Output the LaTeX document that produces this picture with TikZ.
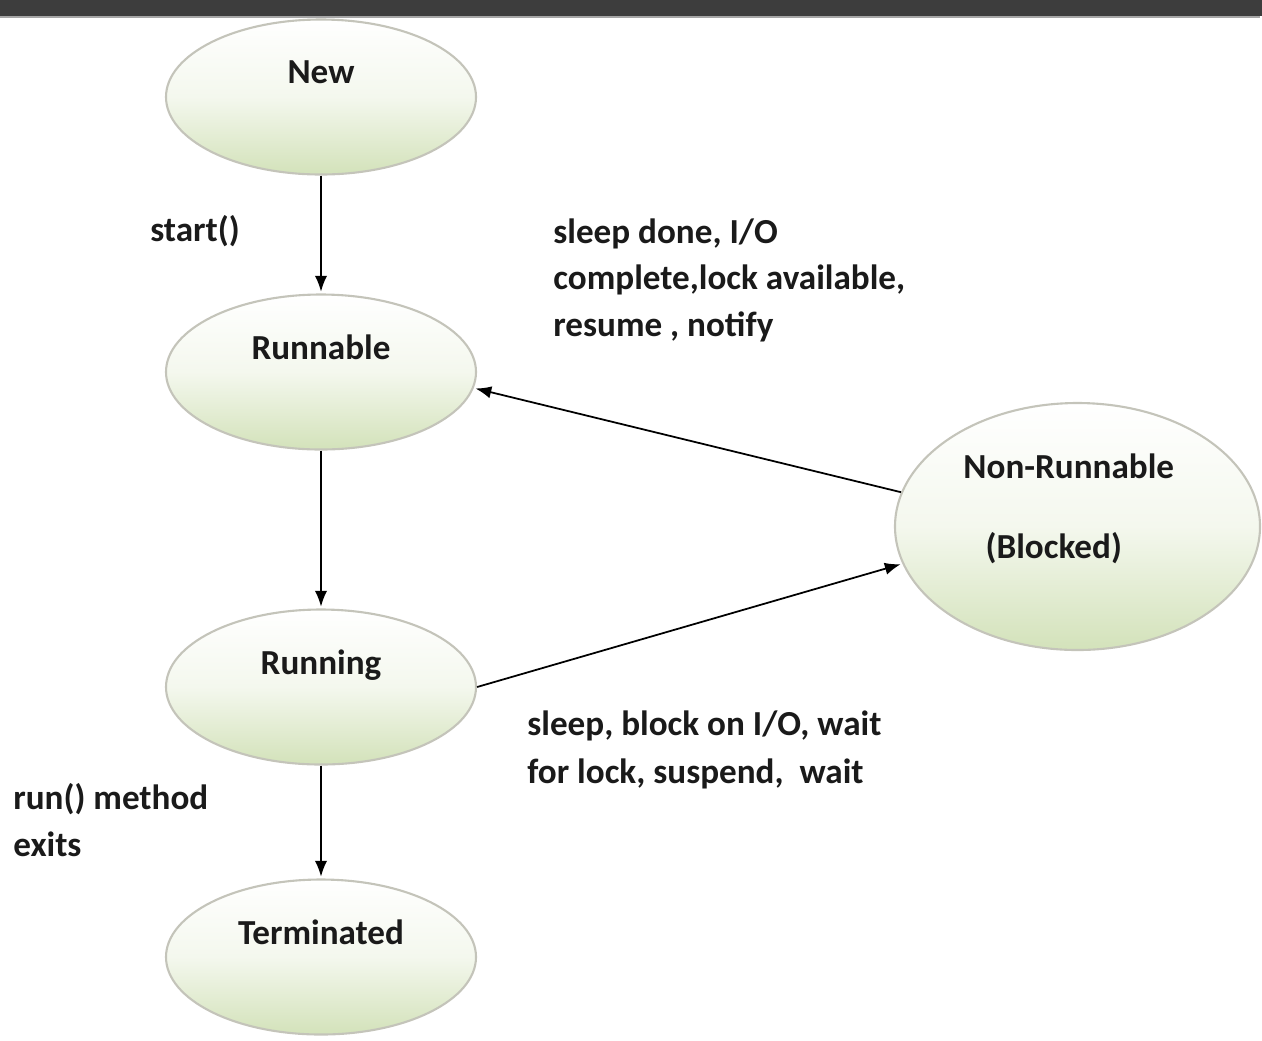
\documentclass[tikz,border=0pt]{standalone}
\usepackage{fontspec}
\setmainfont{Carlito}
\usetikzlibrary{arrows,arrows.meta,positioning,shapes}
\definecolor{ovtop}{HTML}{FFFFFF}
\definecolor{ovbot}{HTML}{D3E2BA}
\definecolor{ovline}{HTML}{C4C4BA}
\definecolor{barcol}{HTML}{3D3D3D}
\definecolor{txtcol}{HTML}{1A1A1A}

\begin{document}
\begin{tikzpicture}[>={Latex[length=9pt,width=7pt]},shorten >=1pt,node distance=3cm,on grid,
    thread/.style={ellipse,draw=ovline,line width=1.2pt,top color=ovtop,bottom color=ovbot,
      middle color=ovtop!75!ovbot,
      minimum width=6.2cm,minimum height=3.1cm,inner sep=0pt,text depth=1cm,
      font=\fontsize{20}{26}\selectfont\bfseries,text=txtcol},
    note/.style={anchor=west,align=left,inner sep=0pt,font=\fontsize{20}{26.5}\selectfont\bfseries,text=txtcol}]
   \useasboundingbox (0,0) rectangle (25.24,-20.8);
   \fill[barcol] (0,0) rectangle (25.24,-0.32);
   \draw[gray!70,line width=0.8pt] (0,-0.34) -- (25.24,-0.34);

   \node[thread] (s_new) at (6.42,-1.94) {New};
   \node[thread] (s_runnable) [below=5.5cm of s_new] {Runnable};
   \node[thread] (s_running) [below=6.3cm of s_runnable] {Running};
   \node[thread] (s_term) [below=5.4cm of s_running] {Terminated};
   \node[thread,minimum width=7.3cm,minimum height=4.94cm,align=center,text depth=0.82cm] (s_blocked) at (21.55,-10.53)
     {Non-Runnable\hspace*{0.35cm}\\[0.7cm](Blocked)\hspace*{0.95cm}};

   \node[note] (l_start) at (3.0,-4.62) {start()};
   \node[note] (l_wake) at (11.06,-5.6) {sleep done, I/O\\complete,lock available,\\resume , notify};
   \node[note,font=\fontsize{20}{27.2}\selectfont\bfseries] (l_block) at (10.54,-15.0) {sleep, block on I/O, wait\\for lock, suspend,\ \ wait};
   \node[note] (l_exit) at (0.26,-16.4) {run() method\\exits};

    \path[->,line width=1pt]
    (s_new) edge (s_runnable)
    (s_runnable) edge (s_running)
    (s_running) edge (s_term)
    (s_blocked.169) edge (s_runnable.-6)
    (s_running.0) edge (s_blocked.192);
\end{tikzpicture}
\end{document}
